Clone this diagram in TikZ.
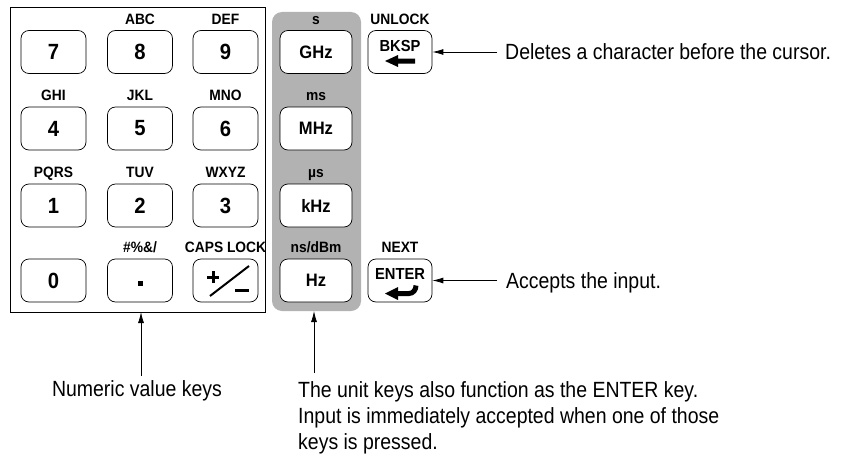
\documentclass[tikz,border=0pt]{standalone}
\usepackage{fontspec}
\setmainfont{Liberation Sans}[FakeStretch=0.885]
\newfontfamily\keyfont{Liberation Sans}[FakeStretch=0.92]
\usetikzlibrary{arrows.meta,positioning,calc}

\tikzset{
  key/.style={draw, line width=0.7pt, rounded corners=8pt, fill=white,
    minimum width=65pt, minimum height=43pt, inner sep=0pt,
    font=\keyfont\bfseries\fontsize{22}{26}\selectfont},
  unitkey/.style={key, minimum width=72pt, font=\keyfont\bfseries\fontsize{18}{21}\selectfont},
  fnkey/.style={key, minimum width=64pt},
  fntext/.style={inner sep=0pt, font=\keyfont\bfseries\fontsize{16}{19}\selectfont},
  keylbl/.style={anchor=base, inner sep=0pt, font=\keyfont\bfseries\fontsize{15}{18}\selectfont},
  note/.style={inner sep=0pt, font=\fontsize{22}{26}\selectfont},
  callout/.style={->, line width=0.8pt},
}

\begin{document}
\begin{tikzpicture}[x=1pt, y=-1pt, >={Latex[length=11pt,width=6pt]}]
\useasboundingbox (0,0) rectangle (842,460);

% numeric block and unit panel
\draw[line width=0.7pt] (10,7) rectangle (265,312);
\fill[black!30, rounded corners=10pt] (272,12) rectangle (361,311);

\foreach \d/\x/\y in {7/53.5/52, 8/140/52, 9/225.5/52,
                      4/53.5/128.5, 5/140/128.5, 6/225.5/128.5,
                      1/53.5/205.5, 2/140/205.5, 3/225.5/205.5, 0/53.5/280.5}{
  \node[key] (k\d) at (\x,\y) {\d};
}
\node[key] (kdot) at (140,280.5) {};
\node[key] (kpm) at (225.5,280.5) {};

\foreach \d/\txt in {8/ABC, 9/DEF, 4/GHI, 5/JKL, 6/MNO, 1/PQRS, 2/TUV, 3/WXYZ, dot/{\#\%\&/}, pm/CAPS LOCK}{
  \node[keylbl] (l\d) at ([yshift=6pt]k\d.north) {\txt};
}

% symbols on the two blank keys
\fill ([shift={(-2.5,0)}]kdot.center) rectangle ++(5,5);
\begin{scope}[shift={(kpm.center)}, line width=3pt]
  \draw (-18.5,-3.5) -- (-6.5,-3.5);
  \draw (-12.5,-9.5) -- (-12.5,2.5);
  \draw[line width=2pt] (-15.5,15.5) -- (23.5,-14.5);
  \draw (9.5,10) -- (23.5,10);
\end{scope}

% unit keys
\foreach \n/\unit/\txt/\y in {1/GHz/s/52, 2/MHz/ms/128.5, 3/kHz/µs/205.5, 4/Hz/{ns/dBm}/280.5}{
  \node[unitkey] (u\n) at (316,\y) {\unit};
  \node[keylbl] (ul\n) at ([yshift=6pt]u\n.north) {\txt};
}

% backspace and enter
\node[fnkey] (bksp) at (400,52) {};
\node[fntext] (bktxt) at ([yshift=6pt]bksp.center) {BKSP};
\node[keylbl] (unlock) at ([yshift=6pt]bksp.north) {UNLOCK};
\begin{scope}[shift={(bksp.center)}]
  \fill (-15,9) -- (-2,3) -- (-2,6.5) -- (15,6.5) -- (15,11.5) -- (-2,11.5) -- (-2,15) -- cycle;
\end{scope}

\node[fnkey] (enter) at (400,280.5) {};
\node[fntext] (entxt) at ([yshift=7pt]enter.center) {ENTER};
\node[keylbl] (next) at ([yshift=6pt]enter.north) {NEXT};
\begin{scope}[shift={(enter.center)}]
  \draw[line width=5pt] (-3,13) -- (9,13) to[out=0,in=-90] (16,5);
  \fill (-15,13) -- (-2,6.5) -- (-2,19.5) -- cycle;
\end{scope}

% callouts
\node[note, anchor=west] (deltxt) at (505,52) {Deletes a character before the cursor.};
\draw[callout, shorten <=8pt] (deltxt.west |- bksp.east) -- (bksp.east);

\node[note, anchor=base west] (acctxt) at (506,288) {Accepts the input.};
\draw[callout, shorten <=9pt] (acctxt.west |- enter.east) -- (enter.east);

\coordinate (numtip) at (141,312);
\node[note, anchor=base] (numtxt) at (137,396) {Numeric value keys};
\draw[callout, shorten <=4pt] (numtxt.north -| numtip) -- (numtip);

\coordinate (unittip) at (314,311);
\node[note, anchor=north west, align=left] (unittxt) at (298,381)
  {The unit keys also function as the ENTER key.\\
   Input is immediately accepted when one of those\\
   keys is pressed.};
\draw[callout, shorten <=8pt] (unittxt.north -| unittip) -- (unittip);
\end{tikzpicture}
\end{document}
